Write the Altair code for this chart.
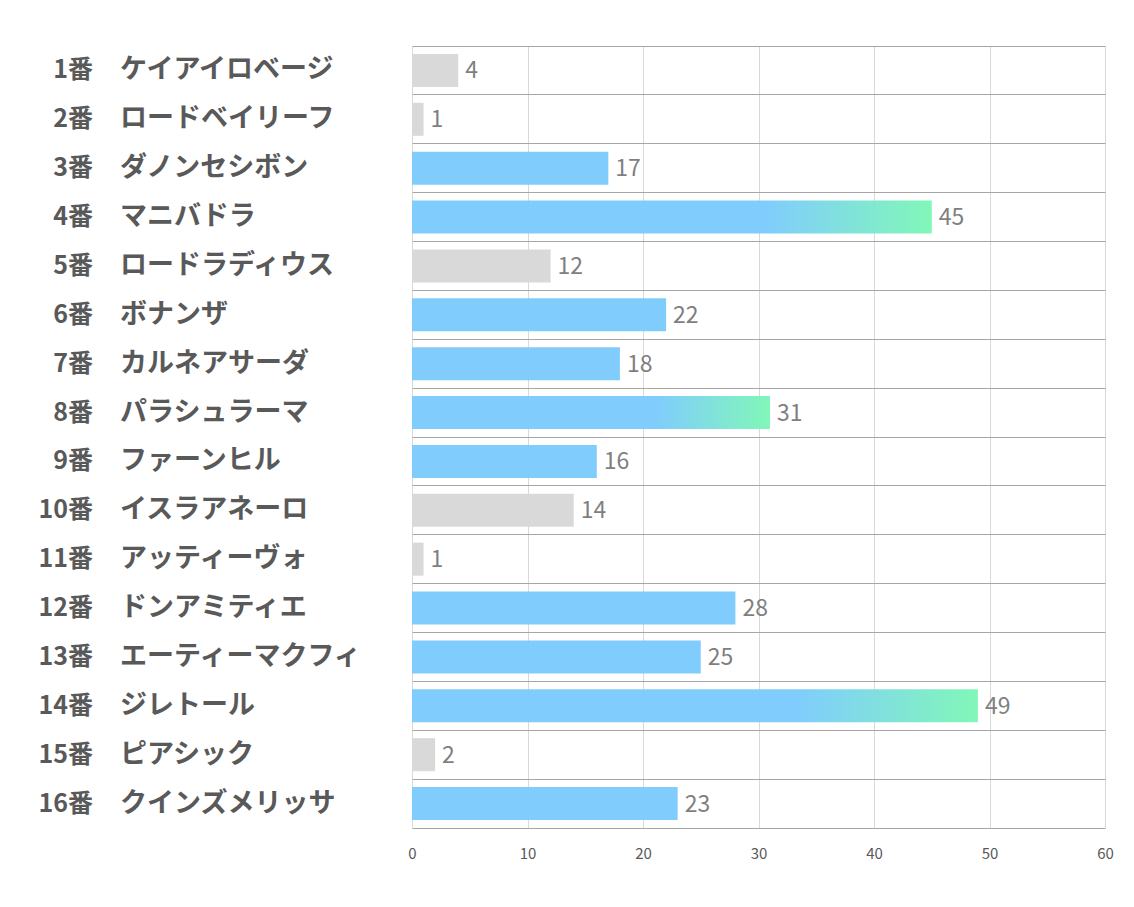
import altair as alt
import pandas as pd

nums = ["1番", "2番", "3番", "4番", "5番", "6番", "7番", "8番",
        "9番", "10番", "11番", "12番", "13番", "14番", "15番", "16番"]
names = ["ケイアイロベージ", "ロードベイリーフ", "ダノンセシボン", "マニバドラ",
         "ロードラディウス", "ボナンザ", "カルネアサーダ", "パラシュラーマ",
         "ファーンヒル", "イスラアネーロ", "アッティーヴォ", "ドンアミティエ",
         "エーティーマクフィ", "ジレトール", "ピアシック", "クインズメリッサ"]
values = [4, 1, 17, 45, 12, 22, 18, 31, 16, 14, 1, 28, 25, 49, 2, 23]
kinds = ["gray", "gray", "blue", "grad", "gray", "blue", "blue", "grad",
         "blue", "gray", "gray", "blue", "blue", "grad", "gray", "blue"]

df = pd.DataFrame({"num": nums, "name": names, "value": values, "kind": kinds})
order = nums

FONT = "Noto Sans CJK JP"
BAR = 33
yenc = alt.Y("num:N", sort=order, scale=alt.Scale(paddingInner=0, paddingOuter=0),
             axis=alt.Axis(title=None, labels=False, ticks=False, domain=False,
                           grid=True, bandPosition=0, gridColor="#a6a6a6", gridWidth=1))
xenc = alt.X("value:Q", scale=alt.Scale(domain=[0, 60], nice=False),
             axis=alt.Axis(title=None, values=[0, 10, 20, 30, 40, 50, 60], ticks=False,
                           domainColor="#a6a6a6", gridColor="#d9d9d9",
                           labelColor="#595959", labelFontSize=15, labelFont=FONT,
                           labelPadding=18, labelFlush=False))

base = alt.Chart(df)

gray_bars = base.transform_filter(alt.datum.kind == "gray").mark_bar(
    color="#d9d9d9", size=BAR).encode(x=xenc, y=yenc)
blue_bars = base.transform_filter(alt.datum.kind == "blue").mark_bar(
    color="#7ccbfd", opacity=0.97, size=BAR).encode(x=xenc, y=yenc)
grad_bars = base.transform_filter(alt.datum.kind == "grad").mark_bar(
    color=alt.LinearGradient(
        gradient="linear",
        stops=[alt.GradientStop(color="#7ccbfd", offset=0),
               alt.GradientStop(color="#7ccbfd", offset=0.68),
               alt.GradientStop(color="#7df7b6", offset=1)],
        x1=0, x2=1, y1=0, y2=0),
    opacity=0.97, size=BAR).encode(x=xenc, y=yenc)

val_text = base.mark_text(align="left", baseline="middle", dx=7, dy=1, fontSize=23,
                          color="#7f7f7f", font=FONT).encode(
    x="value:Q", y=alt.Y("num:N", sort=order), text="value:Q")

num_text = base.mark_text(align="right", baseline="middle", fontSize=25, fontWeight="bold",
                          color="#595959", font=FONT).encode(
    x=alt.value(-319), y=alt.Y("num:N", sort=order), text="num:N")
name_text = base.mark_text(align="left", baseline="middle", fontSize=27, fontWeight="bold",
                           color="#595959", font=FONT).encode(
    x=alt.value(-292), y=alt.Y("num:N", sort=order), text="name:N")

chart = alt.layer(gray_bars, blue_bars, grad_bars, val_text, num_text, name_text).properties(
    width=693, height=782,
    autosize=alt.AutoSizeParams(type="none"),
    padding={"left": 404, "top": 38, "right": 20, "bottom": 60},
).configure_view(stroke=None).configure_axis(labelFont=FONT)

chart.save("out.html", embed_options={"renderer": "svg", "actions": False})
